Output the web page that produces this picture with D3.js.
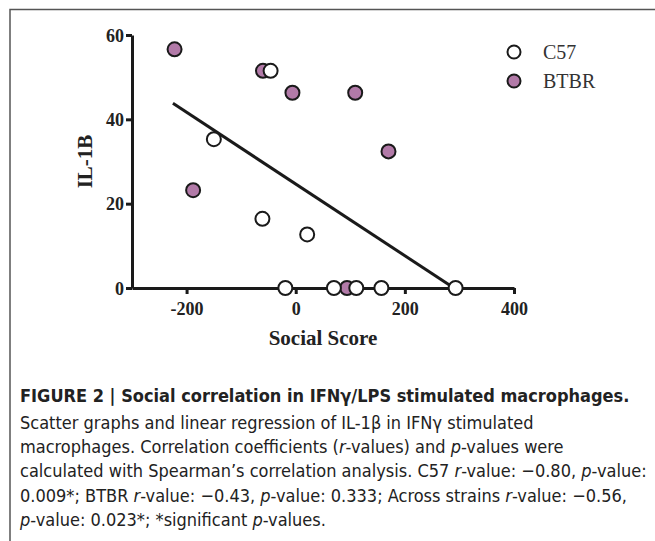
<!DOCTYPE html>
<html>
<head>
<meta charset="utf-8">
<script src="https://cdn.jsdelivr.net/npm/d3@7"></script>
<style>
  body { margin: 0; background: #fff; }
  svg { display: block; }
</style>
</head>
<body>
<svg id="fig" width="655" height="541"></svg>
<script>
// values
let c57X = [-46, -150, -61, 21, -19, 70, 111, 157, 293];
let c57Y = [51.5, 35.3, 16.4, 12.7, 0, 0, 0, 0, 0];
let btbrX = [-222, -60, -6, 109, 170, -188, 94];
let btbrY = [56.6, 51.5, 46.3, 46.3, 32.4, 23.2, 0];
let fitLine = [[-225, 43.8], [290, 0]];
let xTicks = [-200, 0, 200, 400];
let yTicks = [0, 20, 40, 60];
let legendNames = ["C57", "BTBR"];

let captionLines = [
    [["FIGURE 2 | Social correlation in IFN\u03b3/LPS stimulated macrophages.", "b"]],
    [["Scatter graphs and linear regression of IL-1\u03b2 in IFN\u03b3 stimulated", ""]],
    [["macrophages. Correlation coefficients (", ""], ["r", "i"], ["-values) and ", ""], ["p", "i"], ["-values were", ""]],
    [["calculated with Spearman\u2019s correlation analysis. C57 ", ""], ["r", "i"], ["-value: \u22120.80, ", ""], ["p", "i"], ["-value:", ""]],
    [["0.009*; BTBR ", ""], ["r", "i"], ["-value: \u22120.43, ", ""], ["p", "i"], ["-value: 0.333; Across strains ", ""], ["r", "i"], ["-value: \u22120.56,", ""]],
    [["p", "i"], ["-value: 0.023*; *significant ", ""], ["p", "i"], ["-values.", ""]]
];

let svg = d3.select("#fig");

// frame around the figure
svg.append("path")
    .attr("d", "M10,541 V9.5 H655")
    .attr("fill", "none")
    .attr("stroke", "#555")
    .attr("stroke-width", 1.5);

let x = d3.scaleLinear().domain([-300, 400]).range([132, 514]);
let y = d3.scaleLinear().domain([0, 60]).range([288, 35]);

let serif = "'Liberation Serif', 'Times New Roman', serif";

let xAxis = svg.append("g")
    .attr("transform", "translate(0,288)")
    .call(d3.axisBottom(x).tickValues(xTicks).tickFormat(d3.format("d")).tickSize(6).tickSizeOuter(0).tickPadding(5));
let yAxis = svg.append("g")
    .attr("transform", "translate(132,0)")
    .call(d3.axisLeft(y).tickValues(yTicks).tickSize(6).tickSizeOuter(0).tickPadding(2));

[xAxis, yAxis].forEach(function(g) {
    g.select(".domain").attr("stroke", "#1a1a1a").attr("stroke-width", 3);
    g.selectAll(".tick line").attr("stroke", "#1a1a1a").attr("stroke-width", 3);
    g.selectAll(".tick text")
        .attr("fill", "#222")
        .style("font-family", serif)
        .style("font-weight", "bold")
        .style("font-size", "18px");
});
yAxis.selectAll(".tick text").attr("dy", "0.35em");
xAxis.selectAll(".tick text").attr("dy", "0.9em").text(d => d < 0 ? "-" + Math.abs(d) : d);

svg.append("text")
    .attr("x", (x(-300) + x(400)) / 2)
    .attr("y", 345)
    .attr("text-anchor", "middle")
    .style("font-family", serif)
    .style("font-weight", "bold")
    .style("font-size", "21px")
    .attr("fill", "#222")
    .text("Social Score");

svg.append("text")
    .attr("transform", "translate(92," + y(30) + ") rotate(-90)")
    .attr("text-anchor", "middle")
    .style("font-family", serif)
    .style("font-weight", "bold")
    .style("font-size", "21px")
    .attr("fill", "#222")
    .text("IL-1B");

// regression line
svg.append("path")
    .datum(fitLine)
    .attr("d", d3.line().x(d => x(d[0])).y(d => y(d[1])))
    .attr("stroke", "#1a1a1a")
    .attr("stroke-width", 3)
    .attr("fill", "none");

let purple = "#b27aa8";

svg.append("g").selectAll("circle")
    .data(btbrX.map((v, i) => [v, btbrY[i]]))
    .enter().append("circle")
    .attr("cx", d => x(d[0]))
    .attr("cy", d => y(d[1]))
    .attr("r", 7)
    .attr("fill", purple)
    .attr("stroke", "#1a1a1a")
    .attr("stroke-width", 2);

svg.append("g").selectAll("circle")
    .data(c57X.map((v, i) => [v, c57Y[i]]))
    .enter().append("circle")
    .attr("cx", d => x(d[0]))
    .attr("cy", d => y(d[1]))
    .attr("r", 7)
    .attr("fill", "#fff")
    .attr("stroke", "#1a1a1a")
    .attr("stroke-width", 2);

// legend
let legend = svg.append("g").selectAll("g")
    .data(legendNames)
    .enter().append("g")
    .attr("transform", (d, i) => "translate(514," + (52 + i * 29) + ")");
legend.append("circle")
    .attr("r", 6.5)
    .attr("fill", (d, i) => i == 0 ? "#fff" : purple)
    .attr("stroke", "#1a1a1a")
    .attr("stroke-width", 2);
legend.append("text")
    .attr("x", 29)
    .attr("dy", "0.35em")
    .style("font-family", serif)
    .style("font-size", "20px")
    .attr("fill", "#333")
    .text(d => d);

// caption
let capY = [402, 429, 453, 477, 502, 526];
let caption = svg.append("g")
    .style("font-family", "'Liberation Sans Narrow', 'DejaVu Sans Condensed', 'Liberation Sans', sans-serif")
    .style("font-size", "18px")
    .attr("fill", "#222");
captionLines.forEach(function(line, i) {
    let t = caption.append("text").attr("x", 20).attr("y", capY[i]);
    line.forEach(function(seg) {
        t.append("tspan")
            .style("font-weight", seg[1] == "b" ? "bold" : "normal")
            .style("font-style", seg[1] == "i" ? "italic" : "normal")
            .text(seg[0]);
    });
});
</script>
</body>
</html>
